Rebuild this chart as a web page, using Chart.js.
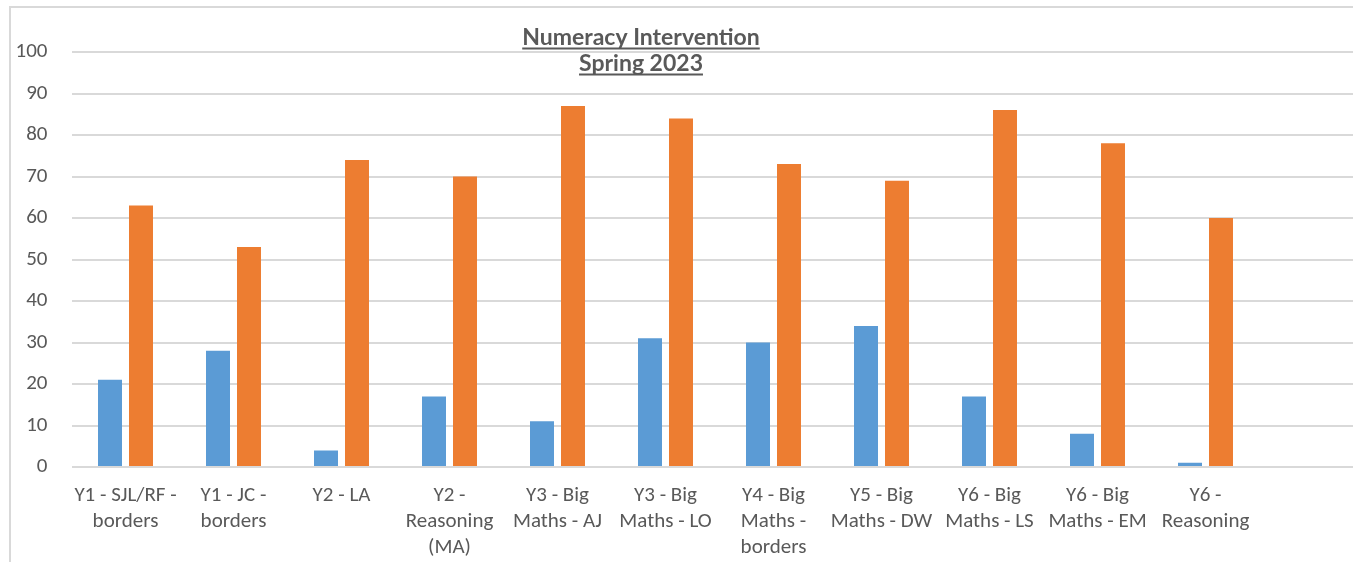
<!DOCTYPE html>
<html>
<head>
<meta charset="utf-8">
<script src="https://cdn.jsdelivr.net/npm/chart.js@4"></script>
<style>
  html, body { margin: 0; padding: 0; background: #fff; overflow: hidden; width: 1353px; height: 562px; }
  .frame { position: absolute; left: 9px; top: 6px; width: 1500px; height: 700px; border: 2px solid #d9d9d9; box-sizing: border-box; }
  .wrap { position: absolute; left: 0; top: 0; width: 1370px; height: 562px; }
</style>
</head>
<body>
<div class="frame"></div>
<div class="wrap"><canvas id="c"></canvas></div>
<script>
// ── Data ──────────────────────────────────────────────────────────────────
const titleLines = ['Numeracy Intervention', 'Spring 2023']
const groups = [
  ['Y1 - SJL/RF -', 'borders'],
  ['Y1 - JC -', 'borders'],
  ['Y2 - LA'],
  ['Y2 -', 'Reasoning', '(MA)'],
  ['Y3 - Big', 'Maths - AJ'],
  ['Y3 - Big', 'Maths - LO'],
  ['Y4 - Big', 'Maths -', 'borders'],
  ['Y5 - Big', 'Maths - DW'],
  ['Y6 - Big', 'Maths - LS'],
  ['Y6 - Big', 'Maths - EM'],
  ['Y6 -', 'Reasoning'],
  ''
]
const seriesA = [21, 28, 4, 17, 11, 31, 30, 34, 17, 8, 1, null]
const seriesB = [63, 53, 74, 70, 87, 84, 73, 69, 86, 78, 60, null]
const yTicks = { min: 0, max: 100, step: 10 }

const GREY = '#595959'
const FONT = 'Carlito, Calibri, Lato, sans-serif'

// ── Underlined title drawn over the plot ─────────────────────────────────
const titlePlugin = {
  id: 'ulTitle',
  afterDraw(chart) {
    const ctx = chart.ctx
    ctx.save()
    ctx.fillStyle = GREY
    ctx.strokeStyle = GREY
    ctx.font = 'bold 23px Lato, sans-serif'
    ctx.textAlign = 'center'
    ctx.textBaseline = 'alphabetic'
    const cx = 641
    titleLines.forEach((t, i) => {
      const y = 45 + i * 26
      ctx.fillText(t, cx, y)
      const w = ctx.measureText(t).width
      ctx.lineWidth = 2
      ctx.beginPath()
      ctx.moveTo(cx - w / 2, y + 3.5)
      ctx.lineTo(cx + w / 2, y + 3.5)
      ctx.stroke()
    })
    ctx.restore()
  }
}

new Chart(document.getElementById('c'), {
  type: 'bar',
  data: {
    labels: groups,
    datasets: [
      { data: seriesA, backgroundColor: '#5B9BD5', categoryPercentage: 0.574, barPercentage: 0.774 },
      { data: seriesB, backgroundColor: '#ED7D31', categoryPercentage: 0.574, barPercentage: 0.774 }
    ]
  },
  options: {
    responsive: true,
    maintainAspectRatio: false,
    animation: false,
    layout: { padding: { top: 52, right: 2.5, left: 0, bottom: 0 } },
    plugins: { legend: { display: false }, tooltip: { enabled: false }, title: { display: false } },
    scales: {
      x: {
        grid: { display: false },
        border: { display: false },
        ticks: {
          color: GREY, font: { family: FONT, size: 21, lineHeight: 1.24 },
          maxRotation: 0, autoSkip: false, padding: 8
        },
        afterFit: s => { s.height = 95 }
      },
      y: {
        min: yTicks.min, max: yTicks.max,
        grid: { color: '#d9d9d9', lineWidth: 2, drawTicks: false },
        border: { display: false },
        ticks: { stepSize: yTicks.step, color: GREY, font: { family: FONT, size: 21 }, padding: 24 },
        afterFit: s => { s.width = 71.5 }
      }
    }
  },
  plugins: [titlePlugin]
})
</script>
</body>
</html>
